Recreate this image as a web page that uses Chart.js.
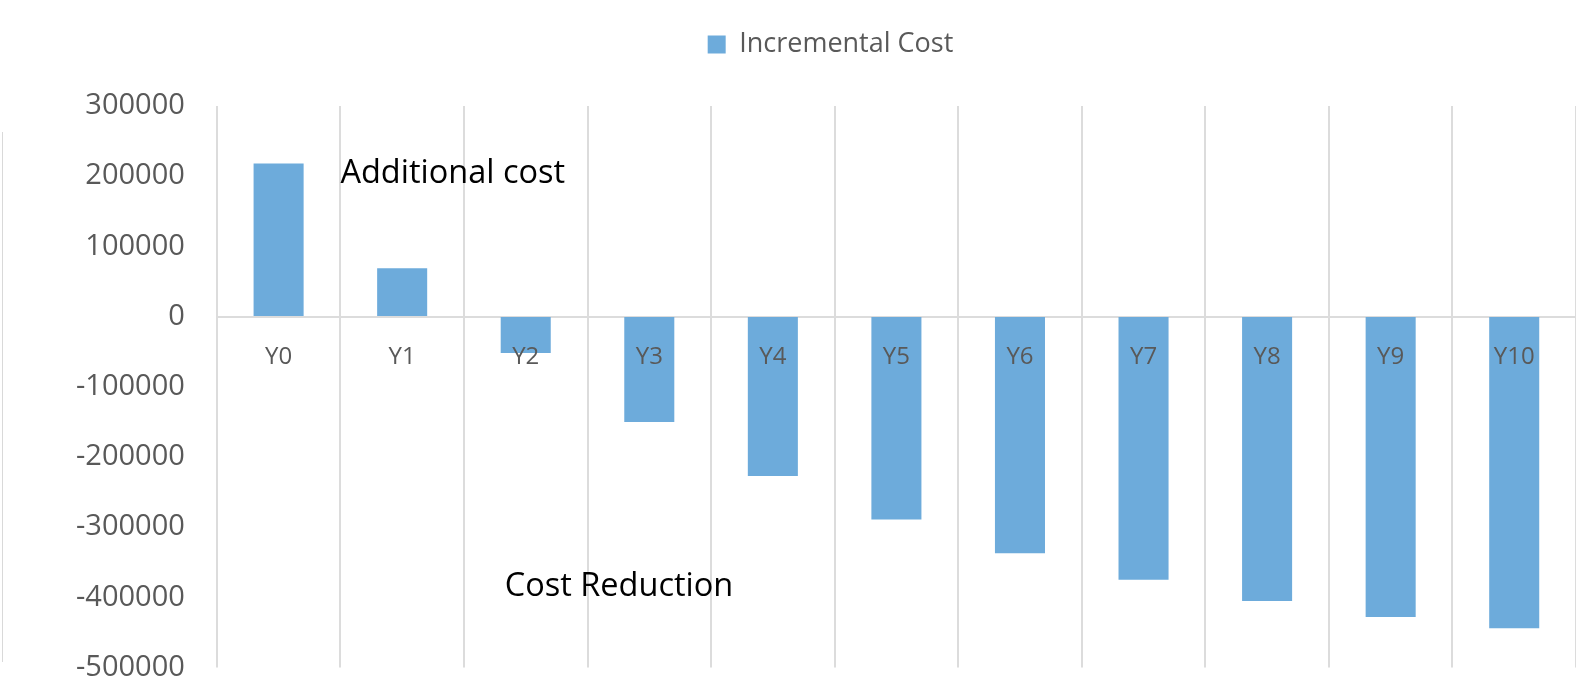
<!DOCTYPE html>
<html>
<head>
<meta charset="utf-8">
<script src="https://cdn.jsdelivr.net/npm/chart.js@4/dist/chart.umd.min.js"></script>
<style>
body{margin:0;background:#fff;}
#wrap{position:relative;width:1576px;height:688px;}
#edge{position:absolute;left:2px;top:132px;width:0;height:530px;border-left:1.5px solid #d9d9d9;}
</style>
</head>
<body>
<div id="wrap">
<div id="edge"></div>
<canvas id="costChart" width="1576" height="688"></canvas>
</div>
<script>
// data
const years = ["Y0","Y1","Y2","Y3","Y4","Y5","Y6","Y7","Y8","Y9","Y10"];
const incrementalCost = [218000, 69000, -52000, -150000, -227000, -289000, -337000, -375000, -405000, -428000, -444000];
const yTicks = [300000, 200000, 100000, 0, -100000, -200000, -300000, -400000, -500000];

// text notes: [text, category position, value]
const notes = [
["Additional cost", 0.5, 190000],
["Cost Reduction", 1.83, -398000]
];

const barBlue = "#6dabdb";
const gray = "#595959";
const gridGray = "#dcdcdc";

const notesPlugin = {
id:"notes",
afterDatasetsDraw(chart){
const c = chart.ctx;
c.save();
c.fillStyle = "#000";
c.font = "32.5px 'Open Sans'";
c.textAlign = "left";
c.textBaseline = "alphabetic";
notes.forEach(n=>{
c.fillText(n[0], chart.scales.x.getPixelForValue(n[1]), chart.scales.y.getPixelForValue(n[2]));
});
c.restore();
}
};

// extra room under the legend, and nudge it right
const legendGap = {
id:"legendGap",
beforeInit(chart){
const fit = chart.legend.fit;
chart.legend.fit = function(){
fit.bind(chart.legend)();
this.height += 38;
};
},
afterLayout(chart){
chart.legend.left += 6;
chart.legend.right += 6;
}
};

const ctx = document.getElementById("costChart");

const chart = new Chart(ctx,{
type:"bar",
data:{
labels:years,
datasets:[{
label:"Incremental Cost",
data:incrementalCost,
backgroundColor:barBlue,
borderWidth:0,
categoryPercentage:1,
barPercentage:0.405
}]
},
options:{
responsive:false,
animation:false,
devicePixelRatio:1,
layout:{padding:{left:73,right:0,top:11,bottom:20}},
plugins:{
legend:{
position:"top",
labels:{
color:gray,
font:{family:"Open Sans",size:27},
boxWidth:18,
boxHeight:18,
padding:20
}
},
tooltip:{enabled:false}
},
scales:{
x:{
position:{y:0},
afterFit(axis){ axis.height = 0; },
grid:{color:gridGray,lineWidth:2,drawTicks:false,offset:true},
border:{color:gridGray,width:2},
ticks:{color:gray,font:{family:"Open Sans",size:24},padding:26,z:1}
},
y:{
min:-500000,
max:300000,
afterBuildTicks(axis){
axis.ticks = yTicks.map(v=>({value:v}));
},
// invisible tick marks keep the gap between labels and plot
grid:{color:"transparent",drawOnChartArea:false,drawTicks:true,tickLength:29},
border:{display:false},
ticks:{
color:gray,
font:{family:"Open Sans",size:29},
padding:3,
callback:(v)=>String(v)
}
}
}
},
plugins:[notesPlugin, legendGap]
});
</script>
</body>
</html>
